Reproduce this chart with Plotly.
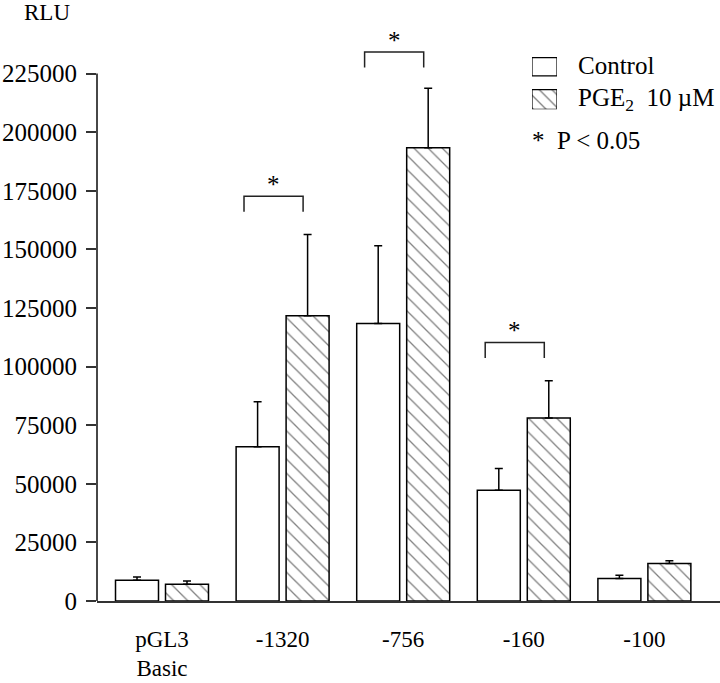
import plotly.graph_objects as go

# ---- data ----
categories = ["pGL3<br>Basic", "-1320", "-756", "-160", "-100"]
control = [8800, 65800, 118400, 47200, 9600]
control_err = [1400, 19200, 33200, 9300, 1400]
pge2 = [7100, 121700, 193400, 78100, 16000]
pge2_err = [1400, 34700, 25300, 15900, 1200]
y_ticks = [0, 25000, 50000, 75000, 100000, 125000, 150000, 175000, 200000, 225000]
sig_groups = [1, 2, 3]
sig_top = [172700, 234200, 110300]

FONT = "Liberation Serif"
xpos = list(range(len(categories)))

fig = go.Figure()
fig.add_trace(go.Bar(
    x=xpos, y=control, name="Control",
    marker=dict(color="white", line=dict(color="black", width=1.5)),
    error_y=dict(type="data", symmetric=False, array=control_err,
                 arrayminus=[0] * len(control), color="black", thickness=1.5, width=4),
    showlegend=False,
))
fig.add_trace(go.Bar(
    x=xpos, y=pge2, name="PGE2 10 µM",
    marker=dict(color="white", line=dict(color="black", width=1.5),
                pattern=dict(shape="\\", fgcolor="black", bgcolor="white", size=10, solidity=0.13)),
    error_y=dict(type="data", symmetric=False, array=pge2_err,
                 arrayminus=[0] * len(pge2), color="black", thickness=1.5, width=4),
    showlegend=False,
))

# legend swatches drawn as bars on a small inset axis
fig.add_trace(go.Bar(
    x=[1], y=[1], orientation="h", width=0.56, xaxis="x2", yaxis="y2",
    marker=dict(color="white", line=dict(color="black", width=1.2)),
    showlegend=False, hoverinfo="skip",
))
fig.add_trace(go.Bar(
    x=[1], y=[0], orientation="h", width=0.6, xaxis="x2", yaxis="y2",
    marker=dict(color="white", line=dict(color="black", width=1.2),
                pattern=dict(shape="\\", fgcolor="black", bgcolor="white", size=9, solidity=0.15)),
    showlegend=False, hoverinfo="skip",
))

shapes = []
# y-axis line from 0 to top tick
shapes.append(dict(type="line", xref="paper", yref="y", x0=0, x1=0,
                   y0=y_ticks[0], y1=y_ticks[-1], line=dict(color="#333", width=1.8)))
annotations = []
for g, top in zip(sig_groups, sig_top):
    x0, x1 = g - 0.32, g + 0.17
    drop = 6600
    shapes.append(dict(type="path", xref="x", yref="y",
                       path=f"M {x0},{top - drop} L {x0},{top} L {x1},{top} L {x1},{top - drop}",
                       line=dict(color="#222", width=1.5)))
    annotations.append(dict(x=(x0 + x1) / 2, y=top, xref="x", yref="y", text="*",
                            showarrow=False, yanchor="bottom", yshift=-4,
                            font=dict(family=FONT, size=25, color="black")))

W, H = 720, 683
ml, mr, mt, mb = 97, 0, 14.7, 82.3
pw, ph = W - ml - mr, H - mt - mb

def px(x):
    return (x - ml) / pw

def py(y):
    return 1 - (y - mt) / ph

annotations += [
    dict(x=px(47), y=py(12), xref="paper", yref="paper", text="RLU", showarrow=False,
         xanchor="center", yanchor="middle", font=dict(family=FONT, size=23, color="black")),
    dict(x=px(576), y=py(65), xref="paper", yref="paper", text="Control", showarrow=False,
         xanchor="left", yanchor="middle", font=dict(family=FONT, size=25, color="black")),
    dict(x=px(576), y=py(99), xref="paper", yref="paper", text="PGE<sub>2</sub>  10 µM",
         showarrow=False, xanchor="left", yanchor="middle",
         font=dict(family=FONT, size=25, color="black")),
    dict(x=px(530), y=py(140), xref="paper", yref="paper", text="*\u00a0\u00a0P < 0.05",
         showarrow=False, xanchor="left", yanchor="middle",
         font=dict(family=FONT, size=25, color="black")),
]

fig.update_layout(
    width=W, height=H,
    margin=dict(l=ml, r=mr, t=mt, b=mb, autoexpand=False),
    paper_bgcolor="white", plot_bgcolor="white",
    barmode="group", bargap=0.171, bargroupgap=0.14,
    font=dict(family=FONT, size=25, color="black"),
    xaxis=dict(range=[-0.539, 4.627], tickvals=xpos, ticktext=categories,
               showline=True, linecolor="#333", linewidth=1.8, ticks="",
               ticklabelstandoff=16, showgrid=False, zeroline=False, automargin=False,
               tickfont=dict(family=FONT, size=23, color="black")),
    yaxis=dict(range=[0, 250000], tickvals=y_ticks, ticktext=[str(v) for v in y_ticks],
               showline=False, ticks="outside", ticklen=10, tickcolor="#333", tickwidth=1.5,
               showgrid=False, zeroline=False, ticklabelstandoff=4, automargin=False,
               tickfont=dict(family=FONT, size=25, color="black")),
    xaxis2=dict(domain=[px(532), px(557)], range=[0, 1], visible=False, anchor="y2"),
    yaxis2=dict(domain=[py(109), py(56.7)], range=[-0.3, 1.3], visible=False, anchor="x2"),
    shapes=shapes, annotations=annotations,
)

fig.write_html("out.html", post_script="document.body.style.margin='0';",
               config={"displayModeBar": False})
